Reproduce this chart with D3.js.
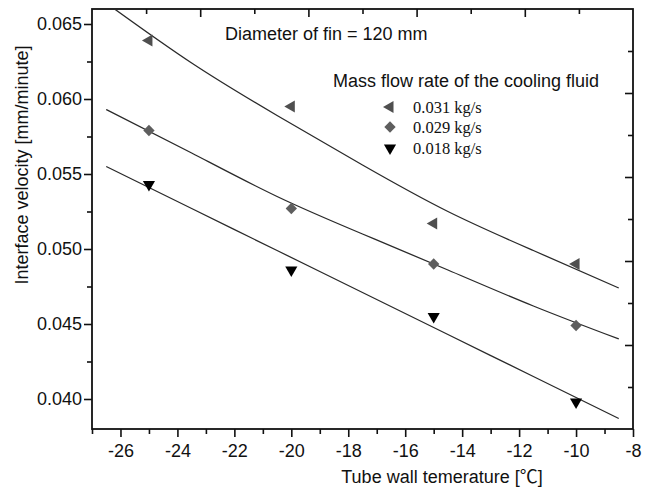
<!DOCTYPE html>
<html>
<head>
<meta charset="utf-8">
<script src="https://cdn.jsdelivr.net/npm/d3@7"></script>
<style>
  html, body { margin: 0; padding: 0; background: #fff; }
  svg { display: block; }
  text { font-family: "Liberation Sans", Arial, "Noto Sans CJK SC", sans-serif; fill: #111; }
  .serif { font-family: "Liberation Serif", "Times New Roman", serif; }
</style>
</head>
<body>
<svg id="chart" width="651" height="488"></svg>
<script>
// Measured interface velocity at each tube wall temperature
const temps = [-25, -20, -15, -10];
const flow031 = [0.0639, 0.0595, 0.0517, 0.0490];
const flow029 = [0.0579, 0.0527, 0.0490, 0.0449];
const flow018 = [0.0543, 0.0486, 0.0455, 0.0398];

// Fitted trend curves for each mass flow rate
const fitTemps = [-26.5, -23.5, -20.5, -17.5, -14.5, -11.5, -8.5];
const fit031 = [0.0664, 0.0624, 0.0589, 0.0556, 0.0525, 0.0499, 0.0474];
const fit029 = [0.0593, 0.0564, 0.0535, 0.0510, 0.0486, 0.0462, 0.0440];
const fit018 = [0.0555, 0.0527, 0.0499, 0.0471, 0.0443, 0.0415, 0.0387];

const seriesNames = ["0.031 kg/s", "0.029 kg/s", "0.018 kg/s"];

// Axis ticks
const xMajor = [-26, -24, -22, -20, -18, -16, -14, -12, -10, -8];
const xMinor = [-27, -25, -23, -21, -19, -17, -15, -13, -11, -9];
const yMajor = [0.040, 0.045, 0.050, 0.055, 0.060, 0.065];
const yMinor = [0.0425, 0.0475, 0.0525, 0.0575, 0.0625];

const svg = d3.select("#chart");
const L = 92, R = 633, T = 9, B = 429;

const x = d3.scaleLinear().domain([-27, -8]).range([L, R]);
const y = d3.scaleLinear().domain([0.038, 0.066]).range([B, T]);
// top and right frame axes carry their own 0–10 division
const xTop = d3.scaleLinear().domain([0, 10]).range([L, R]);
const yRight = d3.scaleLinear().domain([0, 10]).range([B, T]);

function styleAxis(g) {
  g.select(".domain").remove();
  g.selectAll(".tick line").attr("stroke", "#111").attr("stroke-width", 1.6);
  g.selectAll(".tick text").attr("font-size", 18).attr("fill", "#111")
    .attr("font-family", '"Liberation Sans", Arial, sans-serif');
}

// bottom axis
svg.append("g").attr("transform", `translate(0,${B})`)
  .call(d3.axisBottom(x).tickValues(xMajor).tickSize(8).tickPadding(7).tickFormat(d => String(d)))
  .call(styleAxis);
svg.append("g").attr("transform", `translate(0,${B})`)
  .call(d3.axisBottom(x).tickValues(xMinor).tickSize(5).tickFormat(""))
  .call(styleAxis);

// left axis
svg.append("g").attr("transform", `translate(${L},0)`)
  .call(d3.axisLeft(y).tickValues(yMajor).tickSize(8).tickPadding(2).tickFormat(d3.format(".3f")))
  .call(styleAxis);
svg.append("g").attr("transform", `translate(${L},0)`)
  .call(d3.axisLeft(y).tickValues(yMinor).tickSize(5).tickFormat(""))
  .call(styleAxis);

// top axis, ticks pointing inward
const topMajor = [2, 4, 6, 8], topMinor = [1, 3, 5, 7, 9];
svg.append("g").attr("transform", `translate(0,${T})`)
  .call(d3.axisBottom(xTop).tickValues(topMajor).tickSize(8).tickFormat(""))
  .call(styleAxis);
svg.append("g").attr("transform", `translate(0,${T})`)
  .call(d3.axisBottom(xTop).tickValues(topMinor).tickSize(5).tickFormat(""))
  .call(styleAxis);

// right axis, ticks pointing inward
svg.append("g").attr("transform", `translate(${R},0)`)
  .call(d3.axisLeft(yRight).tickValues(topMajor).tickSize(8).tickFormat(""))
  .call(styleAxis);
svg.append("g").attr("transform", `translate(${R},0)`)
  .call(d3.axisLeft(yRight).tickValues(topMinor).tickSize(5).tickFormat(""))
  .call(styleAxis);

// frame
svg.append("rect").attr("x", L).attr("y", T).attr("width", R - L).attr("height", B - T)
  .attr("fill", "none").attr("stroke", "#111").attr("stroke-width", 1.8);

// clip for the fitted curves
svg.append("clipPath").attr("id", "plotClip")
  .append("rect").attr("x", L).attr("y", T).attr("width", R - L).attr("height", B - T);

const line = d3.line().x(d => x(d[0])).y(d => y(d[1])).curve(d3.curveNatural);
[fit031, fit029, fit018].forEach(vals => {
  svg.append("path")
    .attr("clip-path", "url(#plotClip)")
    .attr("d", line(fitTemps.map((t, i) => [t, vals[i]])))
    .attr("fill", "none").attr("stroke", "#2a2a2a").attr("stroke-width", 1.3);
});

// marker shapes
const markers = [
  { type: d3.symbolTriangle, size: 64, rotate: -90, color: "#4f4f4f" },
  { type: d3.symbolSquare, size: 64, rotate: 45, color: "#5e5e5e" },
  { type: d3.symbolTriangle, size: 64, rotate: 180, color: "#000" }
];
const dataSets = [flow031, flow029, flow018];

dataSets.forEach((vals, si) => {
  const m = markers[si];
  const sym = d3.symbol().type(m.type).size(m.size);
  svg.append("g").selectAll("path").data(vals).join("path")
    .attr("d", sym)
    .attr("transform", (d, i) => `translate(${x(temps[i])},${y(d)}) rotate(${m.rotate})`)
    .attr("fill", m.color);
});

// annotation
svg.append("text").attr("x", 225).attr("y", 40).attr("font-size", 18)
  .text("Diameter of fin = 120 mm");

// legend
svg.append("text").attr("x", 333).attr("y", 87).attr("font-size", 18)
  .text("Mass flow rate of the cooling fluid");
const legRows = [107, 127, 148];
seriesNames.forEach((name, si) => {
  const m = markers[si];
  svg.append("path")
    .attr("d", d3.symbol().type(m.type).size(m.size))
    .attr("transform", `translate(390,${legRows[si]}) rotate(${m.rotate})`)
    .attr("fill", m.color);
  svg.append("text").attr("class", "serif").attr("x", 413).attr("y", legRows[si] + 6)
    .attr("font-size", 16.5).text(name);
});

// axis titles
svg.append("text").attr("x", 442).attr("y", 483).attr("text-anchor", "middle")
  .attr("font-size", 18).text("Tube wall temerature [℃]");
svg.append("text").attr("transform", "translate(28,165) rotate(-90)")
  .attr("text-anchor", "middle").attr("font-size", 18)
  .text("Interface velocity [mm/minute]");
</script>
</body>
</html>
